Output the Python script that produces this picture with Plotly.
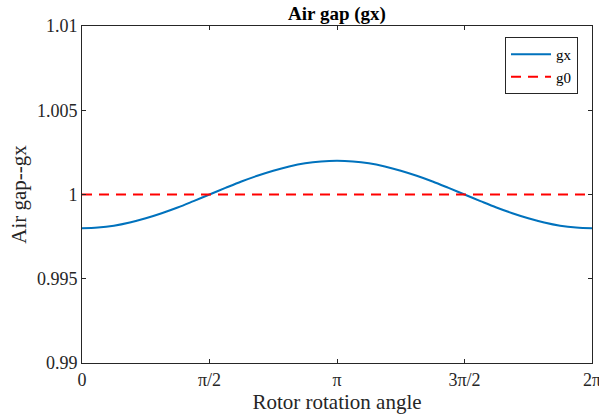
import numpy as np
import plotly.graph_objects as go

# Rotor angle samples (every pi/16) and air gap values
theta = [k * np.pi / 16 for k in range(33)]
gx = [0.99800, 0.99804, 0.99815, 0.99834, 0.99859, 0.99889, 0.99923, 0.99961,
      1.00000, 1.00039, 1.00077, 1.00111, 1.00141, 1.00166, 1.00185, 1.00196,
      1.00200, 1.00196, 1.00185, 1.00166, 1.00141, 1.00111, 1.00077, 1.00039,
      1.00000, 0.99961, 0.99923, 0.99889, 0.99859, 0.99834, 0.99815, 0.99804,
      0.99800]
g0_x = [0, 2 * np.pi]
g0 = [1.0, 1.0]

xtick_vals = [0, np.pi / 2, np.pi, 3 * np.pi / 2, 2 * np.pi]
xtick_text = ["0", "π/2", "π", "3π/2", "2π"]
ytick_vals = [0.99, 0.995, 1.0, 1.005, 1.01]
ytick_text = ["0.99", "0.995", "1", "1.005", "1.01"]

FONT = "Liberation Serif"
fig = go.Figure()
fig.add_trace(go.Scatter(x=theta, y=gx, mode="lines", name="gx",
                         line=dict(color="#0072BD", width=2, shape="spline")))
fig.add_trace(go.Scatter(x=g0_x, y=g0, mode="lines", name="g0",
                         line=dict(color="#FF0000", width=2, dash="10px,7px")))

axis_common = dict(showline=True, linecolor="#262626", linewidth=1, mirror="ticks",
                   ticks="inside", ticklen=4, tickcolor="#262626", showgrid=False,
                   zeroline=False, ticklabeloverflow="allow", automargin=False,
                   tickfont=dict(family=FONT, size=18, color="#262626"))
fig.update_layout(
    width=599, height=419,
    margin=dict(l=82, r=7, t=26, b=56),
    paper_bgcolor="white", plot_bgcolor="white",
    title=dict(text="<b>Air gap (gx)</b>", x=(82 + 592) / 2 / 599, xanchor="center",
               y=1 - 13 / 419, yanchor="middle",
               font=dict(family=FONT, size=19, color="black")),
    xaxis=dict(range=[0, 2 * np.pi], tickvals=xtick_vals, ticktext=xtick_text,
               title=dict(text="Rotor rotation angle", standoff=2,
                          font=dict(family=FONT, size=21, color="#262626")),
               **axis_common),
    yaxis=dict(range=[0.99, 1.01], tickvals=ytick_vals, ticktext=ytick_text,
               title=dict(text="Air gap--gx", standoff=4,
                          font=dict(family=FONT, size=21, color="#262626")),
               **axis_common),
    legend=dict(x=(578 - 82) / 510, y=1 - (37 - 26) / 337, xanchor="right", yanchor="top",
                bordercolor="#262626", borderwidth=1, bgcolor="white",
                font=dict(family=FONT, size=15, color="black"),
                tracegroupgap=0, itemwidth=40),
    showlegend=True,
)
fig.write_html("out.html")
